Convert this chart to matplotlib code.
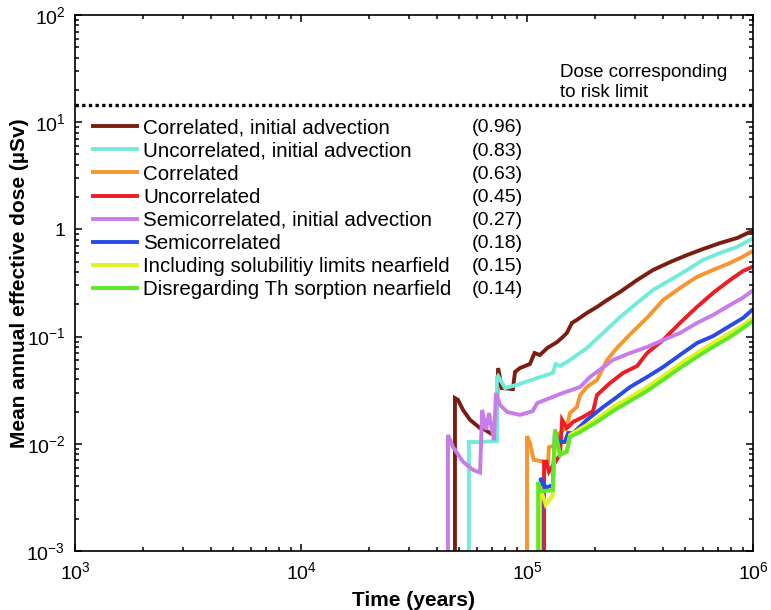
from __future__ import annotations

import math

import matplotlib

matplotlib.use("Agg")

import matplotlib.pyplot as plt
from matplotlib.ticker import FixedLocator, FuncFormatter, LogLocator, NullFormatter

plt.rcParams["font.family"] = ["Liberation Sans", "DejaVu Sans"]
plt.rcParams["mathtext.fontset"] = "custom"
plt.rcParams["mathtext.rm"] = "Liberation Sans"

# --- data (time in years, dose in uSv) ---
corr_adv_time = [4.80e4, 4.80e4, 4.95e4, 5.21e4, 5.60e4, 6.20e4, 6.52e4, 7.00e4, 7.29e4, 7.45e4,
                 7.74e4, 8.66e4, 8.85e4, 9.31e4, 1.03e5, 1.08e5, 1.14e5, 1.23e5, 1.36e5, 1.44e5,
                 1.50e5, 1.58e5, 1.66e5, 1.84e5, 2.04e5, 2.26e5, 2.58e5, 3.07e5, 3.61e5, 4.30e5,
                 5.11e5, 6.01e5, 7.15e5, 8.50e5, 9.70e5, 1.0e6]
corr_adv_dose = [1e-4, 0.0267, 0.0257, 0.0207, 0.0167, 0.0140, 0.0135, 0.0123, 0.0123, 0.0509,
                 0.0331, 0.0324, 0.0468, 0.0509, 0.0555, 0.0703, 0.0673, 0.0783, 0.0891, 0.0991,
                 0.108, 0.134, 0.143, 0.166, 0.189, 0.219, 0.261, 0.337, 0.418, 0.496,
                 0.577, 0.656, 0.746, 0.831, 0.946, 0.96]

uncorr_adv_time = [5.53e4, 5.53e4, 6.20e4, 7.14e4, 7.36e4, 7.36e4, 7.45e4, 8.0e4, 9.31e4, 1.11e5,
                   1.30e5, 1.34e5, 1.40e5, 1.55e5, 1.84e5, 2.17e5, 2.58e5, 3.07e5, 3.61e5, 4.30e5,
                   5.11e5, 6.01e5, 7.15e5, 8.50e5, 9.30e5, 1.0e6]
uncorr_adv_dose = [1e-4, 0.0104, 0.0104, 0.0106, 0.0106, 0.0411, 0.0428, 0.0331, 0.0362, 0.0411,
                   0.0458, 0.0555, 0.0532, 0.0605, 0.0783, 0.108, 0.152, 0.206, 0.272, 0.337,
                   0.418, 0.519, 0.603, 0.686, 0.76, 0.83]

corr_time = [1.0e5, 1.0e5, 1.03e5, 1.07e5, 1.20e5, 1.24e5, 1.25e5, 1.37e5, 1.40e5, 1.50e5,
             1.55e5, 1.66e5, 1.72e5, 1.84e5, 2.04e5, 2.26e5, 2.50e5, 2.86e5, 3.40e5, 4.00e5,
             4.75e5, 5.65e5, 6.65e5, 7.91e5, 9.0e5, 1.0e6]
corr_dose = [1e-4, 0.0118, 0.0102, 0.0071, 0.0068, 0.0068, 0.0093, 0.0098, 0.0126, 0.0144,
             0.0194, 0.0220, 0.0285, 0.0339, 0.0394, 0.0605, 0.0783, 0.105, 0.150, 0.219,
             0.284, 0.360, 0.418, 0.486, 0.555, 0.63]

uncorr_time = [1.19e5, 1.19e5, 1.22e5, 1.25e5, 1.40e5, 1.43e5, 1.50e5, 1.60e5, 1.77e5, 1.96e5,
               2.04e5, 2.33e5, 2.66e5, 3.07e5, 3.40e5, 4.00e5, 4.75e5, 5.65e5, 6.65e5, 7.91e5,
               9.03e5, 1.0e6]
uncorr_dose = [1e-4, 0.0068, 0.0068, 0.0055, 0.0079, 0.0167, 0.0140, 0.0160, 0.0178, 0.0202,
               0.0285, 0.0369, 0.0458, 0.0532, 0.0703, 0.0929, 0.134, 0.189, 0.255, 0.337,
               0.409, 0.45]

semi_adv_time = [4.47e4, 4.47e4, 4.71e4, 5.21e4, 5.77e4, 6.20e4, 6.33e4, 6.59e4, 6.79e4, 7.14e4,
                 7.29e4, 7.60e4, 8.17e4, 9.31e4, 1.06e5, 1.11e5, 1.44e5, 1.72e5, 1.90e5, 2.40e5,
                 2.86e5, 3.40e5, 4.00e5, 4.75e5, 5.65e5, 6.65e5, 7.91e5, 9.0e5, 1.0e6]
semi_adv_dose = [1e-4, 0.0121, 0.0093, 0.0068, 0.0057, 0.0054, 0.0207, 0.0135, 0.0194, 0.0108,
                 0.0298, 0.0230, 0.0198, 0.0186, 0.0202, 0.0240, 0.0298, 0.0339, 0.0420, 0.0605,
                 0.0703, 0.0800, 0.0929, 0.108, 0.134, 0.159, 0.197, 0.23, 0.27]

semi_time = [1.15e5, 1.15e5, 1.21e5, 1.30e5, 1.33e5, 1.37e5, 1.47e5, 1.52e5, 1.60e5, 1.84e5,
             2.17e5, 2.50e5, 2.86e5, 3.40e5, 4.00e5, 4.75e5, 5.65e5, 6.65e5, 7.91e5, 9.03e5,
             1.0e6]
semi_dose = [1e-4, 0.0048, 0.0039, 0.0041, 0.0135, 0.0104, 0.0104, 0.0126, 0.0126, 0.0167,
             0.0220, 0.0273, 0.0339, 0.0420, 0.0520, 0.0673, 0.0871, 0.101, 0.126, 0.149,
             0.18]

solub_time = [1.14e5, 1.14e5, 1.18e5, 1.21e5, 1.30e5, 1.33e5, 1.37e5, 1.40e5, 1.50e5, 1.55e5,
              1.72e5, 2.04e5, 2.40e5, 2.86e5, 3.40e5, 4.00e5, 4.75e5, 5.65e5, 6.65e5, 7.91e5,
              9.03e5, 1.0e6]
solub_dose = [1e-4, 0.0040, 0.0032, 0.0027, 0.0033, 0.0129, 0.0093, 0.0079, 0.0088, 0.0121,
              0.0138, 0.0170, 0.0220, 0.0273, 0.0339, 0.0428, 0.0555, 0.0703, 0.0871, 0.108,
              0.128, 0.15]

no_th_time = [1.12e5, 1.12e5, 1.15e5, 1.30e5, 1.33e5, 1.37e5, 1.40e5, 1.50e5, 1.55e5, 1.72e5,
              2.04e5, 2.40e5, 2.86e5, 3.40e5, 4.00e5, 4.75e5, 5.65e5, 6.65e5, 7.91e5, 9.03e5,
              1.0e6]
no_th_dose = [1e-4, 0.0044, 0.0036, 0.0037, 0.0135, 0.0098, 0.0079, 0.0084, 0.0116, 0.0129,
              0.0160, 0.0202, 0.0251, 0.0311, 0.0394, 0.0509, 0.0646, 0.0800, 0.0991, 0.120,
              0.14]

labels = [
    "Correlated, initial advection",
    "Uncorrelated, initial advection",
    "Correlated",
    "Uncorrelated",
    "Semicorrelated, initial advection",
    "Semicorrelated",
    "Including solubilitiy limits nearfield",
    "Disregarding Th sorption nearfield",
]
final_doses = [0.96, 0.83, 0.63, 0.45, 0.27, 0.18, 0.15, 0.14]
risk_limit_dose = 14.5

times = [corr_adv_time, uncorr_adv_time, corr_time, uncorr_time,
         semi_adv_time, semi_time, solub_time, no_th_time]
doses = [corr_adv_dose, uncorr_adv_dose, corr_dose, uncorr_dose,
         semi_adv_dose, semi_dose, solub_dose, no_th_dose]
colors = ["#7b1e10", "#72ecd8", "#f7962f", "#ee1d25",
          "#c77cea", "#2a4ae6", "#e1f222", "#5ee827"]


def _power_label(value: float, _pos) -> str:
    """
    MATLAB-like log tick labels, with a plain 1 for 10^0.
    """
    exp = int(round(math.log10(value)))
    if exp == 0:
        return "1"
    return rf"$\mathdefault{{10^{{{exp}}}}}$"


fig = plt.figure(figsize=(7.71, 6.10), dpi=100)
ax = fig.add_axes([75 / 771, 59 / 610, 678 / 771, 536 / 610])

for t, d, color, label in zip(times, doses, colors, labels):
    ax.plot(t, d, color=color, lw=2.8, label=label, solid_joinstyle="miter")

# Dose corresponding to the risk limit
ax.axhline(risk_limit_dose, color="black", lw=2.4, linestyle=(0, (1, 1)))
ax.text(0.715, 0.874, "Dose corresponding\nto risk limit", transform=ax.transAxes,
        fontsize=13.5, va="center", ha="left", linespacing=1.2)

ax.set_xscale("log")
ax.set_yscale("log")
ax.set_xlim(1e3, 1e6)
ax.set_ylim(1e-3, 1e2)

ax.xaxis.set_major_locator(FixedLocator([1e3, 1e4, 1e5, 1e6]))
ax.yaxis.set_major_locator(FixedLocator([1e-3, 1e-2, 1e-1, 1, 1e1, 1e2]))
ax.xaxis.set_minor_locator(LogLocator(base=10, subs=range(2, 10), numticks=20))
ax.yaxis.set_minor_locator(LogLocator(base=10, subs=range(2, 10), numticks=20))
ax.xaxis.set_minor_formatter(NullFormatter())
ax.yaxis.set_minor_formatter(NullFormatter())
ax.xaxis.set_major_formatter(FuncFormatter(_power_label))
ax.yaxis.set_major_formatter(FuncFormatter(_power_label))

ax.tick_params(which="both", direction="in", top=True, right=True, labelsize=14, width=1.1)
ax.tick_params(which="major", length=5, pad=7)
ax.tick_params(which="minor", length=3)
for spine in ax.spines.values():
    spine.set_linewidth(1.2)

ax.set_xlabel("Time (years)", fontsize=15, fontweight="bold", labelpad=6)
ax.set_ylabel("Mean annual effective dose (µSv)", fontsize=15, fontweight="bold")
ax.yaxis.set_label_coords(-0.068, 0.5)

leg = ax.legend(loc="upper left", bbox_to_anchor=(0.0265, 0.807), frameon=False,
                fontsize=14.8, handlelength=2.15, handletextpad=0.3, labelspacing=0.2,
                borderpad=0, borderaxespad=0)

# Final-dose values, one per legend row
fig.canvas.draw()
to_axes = ax.transAxes.inverted()
for txt, val in zip(leg.get_texts(), final_doses):
    bb = txt.get_window_extent()
    y_ax = to_axes.transform((0, (bb.y0 + bb.y1) / 2))[1]
    ax.text(0.585, y_ax, f"({val:.2f})", transform=ax.transAxes, fontsize=14, va="center")

fig.savefig("out.png", dpi=100)
plt.close(fig)
